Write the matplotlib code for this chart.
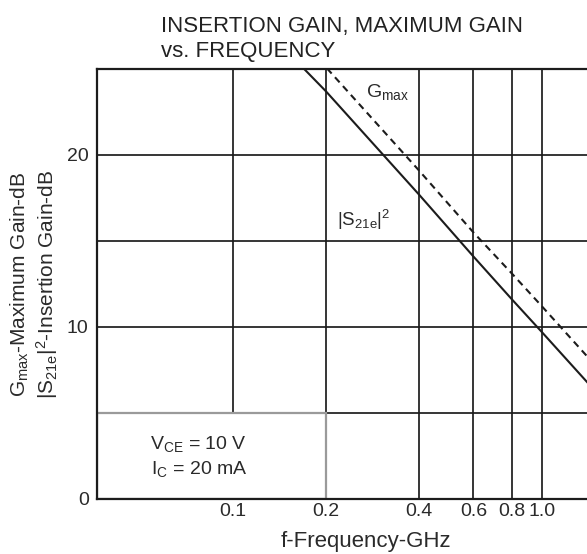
import matplotlib.pyplot as plt
from matplotlib.patches import Rectangle

plt.rcParams['font.family'] = ['Liberation Sans', 'DejaVu Sans']
plt.rcParams['mathtext.fontset'] = 'custom'
plt.rcParams['mathtext.rm'] = 'Liberation Sans'
plt.rcParams['mathtext.it'] = 'Liberation Sans'

# values (GHz, dB)
freq = [0.15, 0.2, 0.4, 0.6, 0.8, 1.0, 1.5, 2.0]
s21e_sq = [26.0, 23.7, 17.7, 14.1, 11.6, 9.7, 6.2, 3.7]
g_max = [27.6, 25.1, 19.1, 15.5, 13.1, 11.2, 7.7, 5.2]

xticks = [0.1, 0.2, 0.4, 0.6, 0.8, 1.0]
xticklabels = ['0.1', '0.2', '0.4', '0.6', '0.8', '1.0']
yticks = [0, 5, 10, 15, 20, 25]
yticklabels = ['0', '', '10', '', '20', '']

ink = '#1c1c1c'
txt = '#2a2a2a'

fig = plt.figure(figsize=(5.87, 5.54), dpi=100)
# the right edge of the plot runs past the picture, like the scan
ax = fig.add_axes([0.1652, 0.0993, 0.9165, 0.7762])

ax.plot(freq, s21e_sq, color=ink, lw=1.5)
ax.plot(freq, g_max, color=ink, lw=1.5, dashes=(3.3, 2.4))

ax.set_xscale('log')
ax.set_xlim(0.0363, 2.0)
ax.set_ylim(0, 25)
ax.set_xticks(xticks)
ax.set_xticklabels(xticklabels)
ax.minorticks_off()
ax.set_yticks(yticks)
ax.set_yticklabels(yticklabels)
ax.tick_params(length=0, labelsize=14, colors=txt)
ax.tick_params(axis='x', pad=3)
ax.tick_params(axis='y', pad=6)

ax.set_axisbelow(True)
ax.grid(True, color=ink, lw=1.25)
for s in ax.spines.values():
    s.set_color(ink)
    s.set_linewidth(1.6)

# conditions box
ax.add_patch(Rectangle((0.0363, 0), 0.2 - 0.0363, 5, facecolor='white',
                       edgecolor='#9a9a9a', lw=1.6, zorder=1.5))
ax.text(0.0775, 2.45, 'V$_{\\rm CE}$ = 10 V\nI$_{\\rm C}$ = 20 mA', fontsize=14,
        color=txt, ha='center', va='center', linespacing=1.35)

ax.text(0.27, 23.66, 'G$_{\\rm max}$', fontsize=14, color=txt, va='center')
ax.text(0.217, 16.2, '|S$_{\\rm 21e}$|$^{\\rm 2}$', fontsize=13.5, color=txt, va='center')

fig.text(0.6235, 0.0126, 'f-Frequency-GHz', fontsize=16, color=txt,
         ha='center', va='baseline')
fig.text(0.033, 0.486, 'G$_{\\rm max}$-Maximum Gain-dB', rotation=90,
         fontsize=15, color=txt, ha='center', va='center')
fig.text(0.08, 0.486, '|S$_{\\rm 21e}$|$^{\\rm 2}$-Insertion Gain-dB', rotation=90,
         fontsize=15, color=txt, ha='center', va='center')

fig.text(0.274, 0.9422, 'INSERTION GAIN, MAXIMUM GAIN', fontsize=16,
         color='#222222', ha='left', va='baseline')
fig.text(0.274, 0.8971, 'vs. FREQUENCY', fontsize=16,
         color='#222222', ha='left', va='baseline')

fig.savefig('out.png', dpi=100)
